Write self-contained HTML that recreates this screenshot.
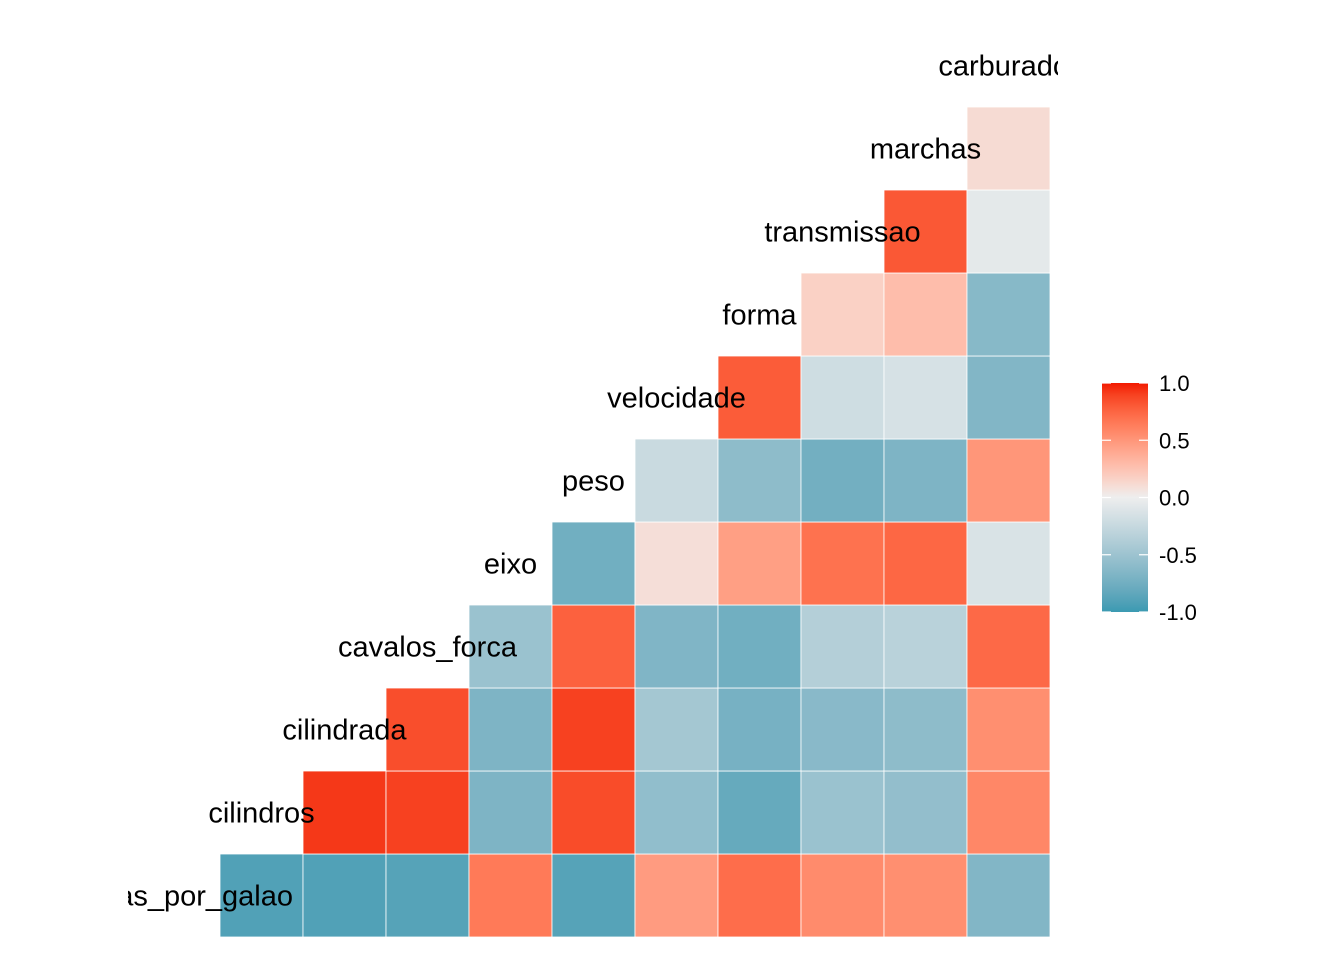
<!DOCTYPE html>
<html><head><meta charset="utf-8"><style>
body{margin:0;background:#fff;}
svg{display:block;font-family:"Liberation Sans",Arial,sans-serif;}
</style></head><body>
<svg id="chart" width="1344" height="960" viewBox="0 0 1344 960">
<defs>
<clipPath id="panel"><rect x="128" y="0" width="930" height="960"/></clipPath>
<linearGradient id="lg" x1="0" y1="1" x2="0" y2="0"></linearGradient>
</defs>
<g id="cells"></g>
<g id="labels" clip-path="url(#panel)"></g>
<g id="legend"></g>
</svg>
<script>
const variables = ["milhas_por_galao","cilindros","cilindrada","cavalos_forca","eixo","peso","velocidade","forma","transmissao","marchas","carburador"];
const corrRows = [
 [-0.91,-0.91,-0.89,0.65,-0.89,0.47,0.71,0.56,0.54,-0.66],
 [0.93,0.90,-0.68,0.86,-0.57,-0.81,-0.52,-0.56,0.58],
 [0.85,-0.68,0.90,-0.46,-0.72,-0.62,-0.59,0.54],
 [-0.52,0.77,-0.67,-0.75,-0.36,-0.33,0.73],
 [-0.75,0.09,0.45,0.69,0.74,-0.13],
 [-0.23,-0.59,-0.74,-0.68,0.50],
 [0.79,-0.20,-0.15,-0.66],
 [0.17,0.28,-0.63],
 [0.81,-0.06],
 [0.11]
];
const legendTicks = [1.0,0.5,0.0,-0.5,-1.0];
const legendTickLabels = ["1.0","0.5","0.0","-0.5","-1.0"];

const NS="http://www.w3.org/2000/svg";
const cell=83, x0=137, yBottom=937;
const xPos = k => x0 + k*cell;
const yPos = k => yBottom - (k+1)*cell;
function toLab(h){let r=parseInt(h.slice(1,3),16)/255,g=parseInt(h.slice(3,5),16)/255,b=parseInt(h.slice(5,7),16)/255;
 const f=c=>c>0.04045?Math.pow((c+0.055)/1.055,2.4):c/12.92;r=f(r);g=f(g);b=f(b);
 let X=(r*0.4124+g*0.3576+b*0.1805)/0.95047,Y=r*0.2126+g*0.7152+b*0.0722,Z=(r*0.0193+g*0.1192+b*0.9505)/1.08883;
 const q=t=>t>0.008856?Math.cbrt(t):7.787*t+16/116;X=q(X);Y=q(Y);Z=q(Z);return [116*Y-16,500*(X-Y),200*(Y-Z)];}
function fromLab(L){let Y=(L[0]+16)/116,X=L[1]/500+Y,Z=Y-L[2]/200;
 const q=t=>t*t*t>0.008856?t*t*t:(t-16/116)/7.787;X=q(X)*0.95047;Y=q(Y);Z=q(Z)*1.08883;
 let r=X*3.2406+Y*-1.5372+Z*-0.4986,g=X*-0.9689+Y*1.8758+Z*0.0415,b=X*0.0557+Y*-0.2040+Z*1.0570;
 const f=c=>{c=c>0.0031308?1.055*Math.pow(c,1/2.4)-0.055:12.92*c;return Math.round(Math.max(0,Math.min(1,c))*255);};
 return `rgb(${f(r)},${f(g)},${f(b)})`;}
const LOW=toLab("#3B9AB2"),MID=toLab("#EEEEEE"),HIGH=toLab("#F21A00");
function color(v){const a=v<0?LOW:HIGH,t=Math.abs(v);return fromLab(MID.map((m,i)=>m+(a[i]-m)*t));}

const cells=document.getElementById('cells');
corrRows.forEach((row,i)=>{row.forEach((v,jj)=>{const j=i+jj+1;
 const r=document.createElementNS(NS,'rect');
 r.setAttribute('x',xPos(j));r.setAttribute('y',yPos(i));
 r.setAttribute('width',cell);r.setAttribute('height',cell);
 r.setAttribute('fill',color(v));r.setAttribute('stroke','#fff');r.setAttribute('stroke-width','0.8');
 
 
 cells.appendChild(r);});});
const labels=document.getElementById('labels');
variables.forEach((name,k)=>{const t=document.createElementNS(NS,'text');
 t.setAttribute('x',xPos(k)+cell/2);t.setAttribute('y',yPos(k)+cell/2+10);
 t.setAttribute('text-anchor','middle');t.setAttribute('font-size','29');t.setAttribute('fill','#000');
 t.textContent=name;
 
 
 labels.appendChild(t);});
const lg=document.getElementById('lg');
for(let s=0;s<=20;s++){const st=document.createElementNS(NS,'stop');const v=-1+s/10;
 st.setAttribute('offset',(s/20*100)+'%');st.setAttribute('stop-color',color(v));lg.appendChild(st);}
const leg=document.getElementById('legend');
const lx=1102,lw=46,ly=383,lh=229;
const ly2 = v => ly + (1-v)/2*lh;
const bar=document.createElementNS(NS,'rect');
bar.setAttribute('x',lx);bar.setAttribute('y',ly);bar.setAttribute('width',lw);bar.setAttribute('height',lh);bar.setAttribute('fill','url(#lg)');


leg.appendChild(bar);
legendTicks.forEach((v,i)=>{const y=ly2(v);
 [[lx,lx+9],[lx+lw-9,lx+lw]].forEach(p=>{const l=document.createElementNS(NS,'line');
  l.setAttribute('x1',p[0]);l.setAttribute('x2',p[1]);l.setAttribute('y1',y);l.setAttribute('y2',y);
  l.setAttribute('stroke','#fff');l.setAttribute('stroke-width','1.2');
  
  
  leg.appendChild(l);});
 const t=document.createElementNS(NS,'text');
 t.setAttribute('x',1159);t.setAttribute('y',y+8);t.setAttribute('font-size','22');t.textContent=legendTickLabels[i];
 
 
 leg.appendChild(t);});
</script>
</body></html>
